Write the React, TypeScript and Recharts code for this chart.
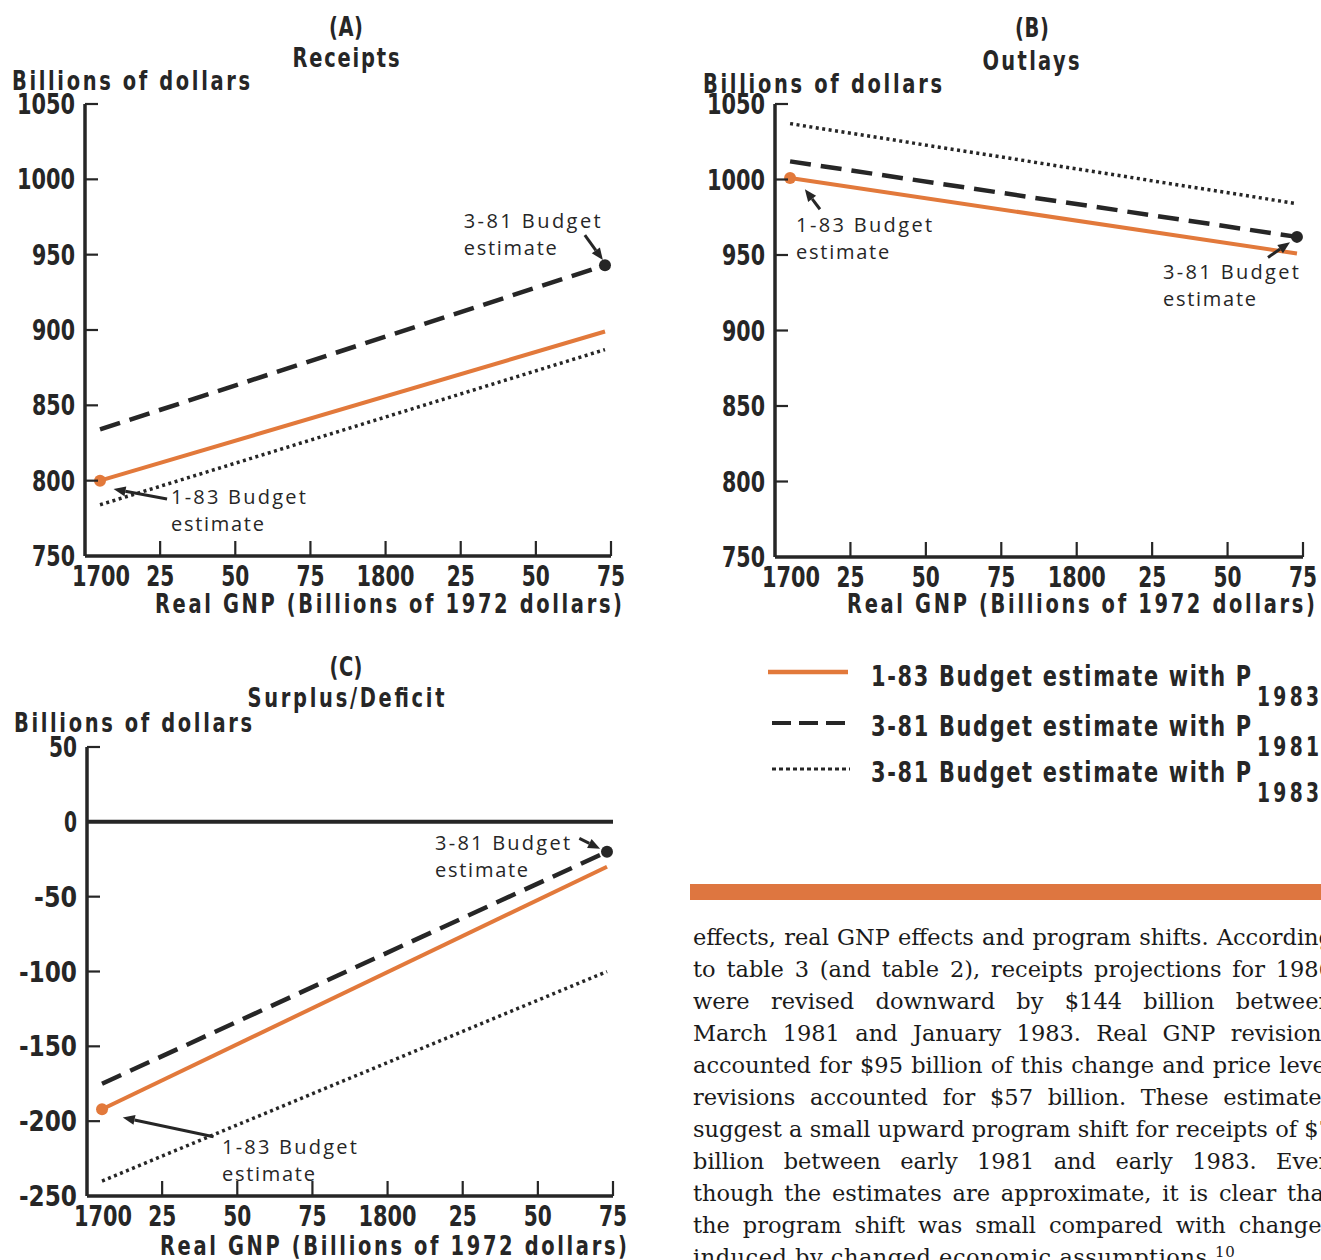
import React from 'react';
import { LineChart, Line, XAxis, YAxis, ReferenceDot, ReferenceLine } from 'recharts';

const INK = '#262626';
const ORANGE = '#E2793B';
const BAR = '#DE7640';
const COND = '"DejaVu Sans Condensed", "DejaVu Sans", "Liberation Sans", sans-serif';
const GEO = '"Open Sans", "DejaVu Sans", sans-serif';
const SERIF = '"DejaVu Serif", "Liberation Serif", serif';

// Real GNP (billions of 1972 dollars) at the two ends of each line
const realGnp = [1705, 1873];
const gnpTicks = [1700, 1725, 1750, 1775, 1800, 1825, 1850, 1875];
const gnpTickLabels = ['1700', '25', '50', '75', '1800', '25', '50', '75'];

const receiptsTicks = [750, 800, 850, 900, 950, 1000, 1050];
const outlaysTicks = [750, 800, 850, 900, 950, 1000, 1050];
const deficitTicks = [-250, -200, -150, -100, -50, 0, 50];

// (A) Receipts
const receipts183P83 = [800, 899];
const receipts381P81 = [834, 943];
const receipts381P83 = [784, 887];
// (B) Outlays
const outlays183P83 = [1001, 951];
const outlays381P81 = [1012, 962];
const outlays381P83 = [1037, 984];
// (C) Surplus/Deficit
const deficit183P83 = [-192, -30];
const deficit381P81 = [-175, -20];
const deficit381P83 = [-240, -100];

const legendLabels = ['1-83 Budget estimate with P', '3-81 Budget estimate with P', '3-81 Budget estimate with P'];
const legendSubscripts = ['1983', '1981', '1983'];

const paragraphLines = [
  'effects, real GNP effects and program shifts. According',
  'to table 3 (and table 2), receipts projections for 1986',
  'were revised downward by $144 billion between',
  'March 1981 and January 1983. Real GNP revisions',
  'accounted for $95 billion of this change and price level',
  'revisions accounted for $57 billion. These estimates',
  'suggest a small upward program shift for receipts of $7',
  'billion between early 1981 and early 1983. Even',
  'though the estimates are approximate, it is clear that',
  'the program shift was small compared with changes',
];
const paragraphLast = 'induced by changed economic assumptions.';
const footnoteMark = '10';

const SX = 0.8;

// condensed bold text: glyphs narrowed horizontally, optional total width
const CT = (p: any) => {
  const { x, y, w, size = 27, anchor = 'start', children } = p;
  return (
    <text
      transform={`translate(${x} ${y}) scale(${SX} 1)`}
      textAnchor={anchor}
      fontFamily={COND}
      fontWeight={700}
      fontSize={size}
      fill={INK}
      textLength={w ? w / SX : undefined}
      lengthAdjust="spacing"
    >
      {children}
    </text>
  );
};

const numWidth = (s: string) => s.length * 15 - 2;

const XTick = (p: any) => {
  const { x, y, payload } = p;
  const i = gnpTicks.indexOf(payload.value);
  const lab = gnpTickLabels[i];
  return (
    <g>
      {i > 0 && <line x1={x} x2={x} y1={y} y2={y - 15} stroke={INK} strokeWidth={2.2} />}
      <text
        x={i === 0 ? x + 16 : x}
        y={y + 20}
        textAnchor="middle"
        dominantBaseline="central"
        fontFamily={COND}
        fontWeight={700}
        fontSize={29}
        fill={INK}
        textLength={numWidth(lab)}
        lengthAdjust="spacingAndGlyphs"
      >
        {lab}
      </text>
    </g>
  );
};

const YTick = (p: any) => {
  const { x, y, payload, index } = p;
  const lab = String(payload.value);
  return (
    <g>
      {index > 0 && <line x1={x} x2={x + 13} y1={y} y2={y} stroke={INK} strokeWidth={2.2} />}
      <text
        x={x - 10}
        y={y}
        textAnchor="end"
        dominantBaseline="central"
        fontFamily={COND}
        fontWeight={700}
        fontSize={29}
        fill={INK}
        textLength={numWidth(lab)}
        lengthAdjust="spacingAndGlyphs"
      >
        {lab}
      </text>
    </g>
  );
};

const Arrow = (p: any) => {
  const { x1, y1, x2, y2 } = p;
  const ang = Math.atan2(y2 - y1, x2 - x1);
  const L = 12;
  const W = 5;
  const bx = x2 - L * Math.cos(ang);
  const by = y2 - L * Math.sin(ang);
  const px = -Math.sin(ang) * W;
  const py = Math.cos(ang) * W;
  return (
    <g>
      <line x1={x1} y1={y1} x2={bx} y2={by} stroke={INK} strokeWidth={3} />
      <polygon points={`${x2},${y2} ${bx + px},${by + py} ${bx - px},${by - py}`} fill={INK} />
    </g>
  );
};

type Note = { x: number; y: number; lines: string[]; widths: number[] };
type Seg = { x1: number; y1: number; x2: number; y2: number };

const noteShape = (note: Note) => (p: any) => (
  <g>
    {note.lines.map((t, k) => (
      <text
        key={k}
        x={p.cx}
        y={p.cy + k * 27}
        fontFamily={GEO}
        fontSize={20}
        fill={INK}
        textLength={note.widths[k]}
        lengthAdjust="spacing"
      >
        {t}
      </text>
    ))}
  </g>
);

function Panel(props: {
  left: number;
  top: number;
  width: number;
  height: number;
  margin: { top: number; right: number; bottom: number; left: number };
  s183: number[];
  s381a: number[];
  s381b: number[];
  yDomain: [number, number];
  yTicks: number[];
  notes: Note[];
  arrows: Seg[];
  zero?: boolean;
}) {
  const data = realGnp.map((g, i) => ({
    gnp: g,
    b183: props.s183[i],
    b381p81: props.s381a[i],
    b381p83: props.s381b[i],
  }));
  const last = realGnp.length - 1;
  return (
    <div style={{ position: 'absolute', left: props.left, top: props.top }}>
      <LineChart width={props.width} height={props.height} data={data} margin={props.margin}>
        <XAxis
          type="number"
          dataKey="gnp"
          domain={[gnpTicks[0], gnpTicks[gnpTicks.length - 1]]}
          ticks={gnpTicks}
          interval={0}
          height={40}
          tickSize={0}
          tickMargin={0}
          tickLine={false}
          axisLine={{ stroke: INK, strokeWidth: 3.5 }}
          tick={XTick}
          allowDataOverflow
        />
        <YAxis
          type="number"
          domain={props.yDomain}
          ticks={props.yTicks}
          interval={0}
          width={85}
          tickSize={0}
          tickMargin={0}
          tickLine={false}
          axisLine={{ stroke: INK, strokeWidth: 3.5 }}
          tick={YTick}
          allowDataOverflow
        />
        {props.zero && <ReferenceLine y={0} stroke={INK} strokeWidth={4} />}
        <Line
          dataKey="b381p83"
          stroke={INK}
          strokeWidth={3.5}
          strokeDasharray="3 3.5"
          dot={false}
          isAnimationActive={false}
        />
        <Line
          dataKey="b381p81"
          stroke={INK}
          strokeWidth={4.5}
          strokeDasharray="21 10"
          dot={false}
          isAnimationActive={false}
        />
        <Line dataKey="b183" stroke={ORANGE} strokeWidth={4} dot={false} isAnimationActive={false} />
        <ReferenceDot x={realGnp[0]} y={props.s183[0]} r={6} fill={ORANGE} stroke="none" />
        <ReferenceDot x={realGnp[last]} y={props.s381a[last]} r={6} fill={INK} stroke="none" />
        {props.arrows.map((a, k) => (
          <ReferenceLine
            key={'a' + k}
            segment={[
              { x: a.x1, y: a.y1 },
              { x: a.x2, y: a.y2 },
            ]}
            shape={Arrow}
            ifOverflow="visible"
          />
        ))}
        {props.notes.map((n, k) => (
          <ReferenceDot key={'n' + k} x={n.x} y={n.y} r={1} shape={noteShape(n)} ifOverflow="visible" />
        ))}
      </LineChart>
    </div>
  );
}

export default function App() {
  return (
    <div
      style={{
        position: 'absolute',
        left: 0,
        top: 0,
        width: 1321,
        height: 1260,
        overflow: 'hidden',
        background: '#fff',
      }}
    >
      <Panel
        left={0}
        top={0}
        width={660}
        height={640}
        margin={{ top: 104, right: 49, bottom: 44, left: 0 }}
        s183={receipts183P83}
        s381a={receipts381P81}
        s381b={receipts381P83}
        yDomain={[750, 1050]}
        yTicks={receiptsTicks}
        notes={[
          { x: 1826, y: 968, lines: ['3-81 Budget', 'estimate'], widths: [137, 93] },
          { x: 1728.6, y: 784.5, lines: ['1-83 Budget', 'estimate'], widths: [135, 93] },
        ]}
        arrows={[
          { x1: 1866.3, y1: 963, x2: 1872.3, y2: 946.4 },
          { x1: 1727.3, y1: 787.8, x2: 1709.5, y2: 794.4 },
        ]}
      />
      <Panel
        left={690}
        top={0}
        width={631}
        height={640}
        margin={{ top: 104, right: 18, bottom: 43, left: 0 }}
        s183={outlays183P83}
        s381a={outlays381P81}
        s381b={outlays381P83}
        yDomain={[750, 1050]}
        yTicks={outlaysTicks}
        notes={[
          { x: 1707, y: 965, lines: ['1-83 Budget', 'estimate'], widths: [136, 93] },
          { x: 1828.6, y: 933.8, lines: ['3-81 Budget', 'estimate'], widths: [136, 93] },
        ]}
        arrows={[
          { x1: 1714.9, y1: 980.3, x2: 1709.9, y2: 993.5 },
          { x1: 1863.4, y1: 948.4, x2: 1870.7, y2: 958.4 },
        ]}
      />
      <Panel
        left={0}
        top={640}
        width={660}
        height={640}
        margin={{ top: 107, right: 47, bottom: 44, left: 2 }}
        s183={deficit183P83}
        s381a={deficit381P81}
        s381b={deficit381P83}
        yDomain={[-250, 50]}
        yTicks={deficitTicks}
        zero
        notes={[
          { x: 1815.8, y: -18.7, lines: ['3-81 Budget', 'estimate'], widths: [135, 93] },
          { x: 1744.9, y: -221.8, lines: ['1-83 Budget', 'estimate'], widths: [135, 93] },
        ]}
        arrows={[
          { x1: 1863.8, y1: -11.1, x2: 1870.7, y2: -18 },
          { x1: 1742.1, y1: -210.4, x2: 1711.9, y2: -197.5 },
        ]}
      />

      <svg
        width={1321}
        height={1260}
        style={{ position: 'absolute', left: 0, top: 0, pointerEvents: 'none' }}
      >
        {/* (A) */}
        <CT x={346} y={36} anchor="middle" w={34}>(A)</CT>
        <CT x={346} y={67} anchor="middle" w={107}>Receipts</CT>
        <CT x={12} y={90} w={238}>Billions of dollars</CT>
        <CT x={155} y={613} w={467}>Real GNP (Billions of 1972 dollars)</CT>
        {/* (B) */}
        <CT x={1032} y={37} anchor="middle" w={34}>(B)</CT>
        <CT x={1031} y={70} anchor="middle" w={97}>Outlays</CT>
        <CT x={703} y={93} w={239}>Billions of dollars</CT>
        <CT x={847} y={613} w={468}>Real GNP (Billions of 1972 dollars)</CT>
        {/* (C) */}
        <CT x={346} y={676} anchor="middle" w={33}>(C)</CT>
        <CT x={346} y={707} anchor="middle" w={197}>Surplus/Deficit</CT>
        <CT x={14} y={732} w={238}>Billions of dollars</CT>
        <CT x={160} y={1255} w={467}>Real GNP (Billions of 1972 dollars)</CT>

        {/* legend */}
        <line x1={768} x2={848} y1={672} y2={672} stroke={ORANGE} strokeWidth={4.5} />
        <line x1={772} x2={846} y1={723} y2={723} stroke={INK} strokeWidth={4} strokeDasharray="19 8" />
        <line x1={772} x2={850} y1={769} y2={769} stroke={INK} strokeWidth={3} strokeDasharray="4 3" />
        {legendLabels.map((l, k) => {
          const base = [686, 736, 782][k];
          return (
            <g key={k}>
              <CT x={871} y={base} size={29} w={380}>{l}</CT>
              <CT x={1257} y={base + 20} size={26} w={62}>{legendSubscripts[k]}</CT>
            </g>
          );
        })}

        <rect x={690} y={884} width={631} height={16} fill={BAR} />
      </svg>

      <div
        style={{
          position: 'absolute',
          left: 693,
          top: 921,
          width: 640,
          fontFamily: SERIF,
          fontSize: 22.5,
          lineHeight: '32px',
          color: '#1a1a1a',
        }}
      >
        {paragraphLines.map((l, k) => (
          <div
            key={k}
            style={{ height: 32, overflow: 'hidden', textAlign: 'justify', textAlignLast: 'justify' }}
          >
            {l}
          </div>
        ))}
        <div style={{ height: 32, letterSpacing: 0.5 }}>
          {paragraphLast}
          <sup style={{ fontSize: 15, verticalAlign: 'super', lineHeight: 0 }}>{footnoteMark}</sup>
        </div>
      </div>
    </div>
  );
}
